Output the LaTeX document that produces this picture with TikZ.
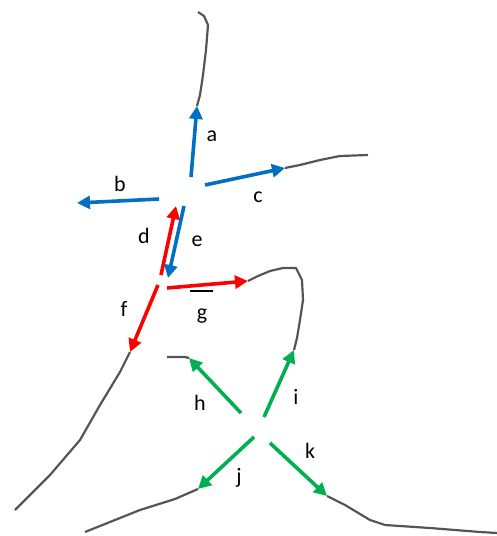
\documentclass[tikz,border=0pt]{standalone}
\usepackage{fontspec}
\setmainfont{Carlito}
\usetikzlibrary{arrows.meta}
\definecolor{vblue}{RGB}{0,112,192}
\definecolor{vred}{RGB}{255,0,0}
\definecolor{vgreen}{RGB}{0,176,80}
\definecolor{vline}{RGB}{85,85,85}
\tikzset{
  curve/.style={draw=vline,line width=2.2pt,line join=round},
  vec/.style={line width=3.6pt,-{Triangle[length=13pt,width=13pt]}},
  bluevec/.style={vec,draw=vblue,fill=vblue},
  redvec/.style={vec,draw=vred,fill=vred},
  greenvec/.style={vec,draw=vgreen,fill=vgreen},
  lab/.style={font=\fontsize{22}{22}\selectfont,inner sep=0pt}
}
\begin{document}
\begin{tikzpicture}[x=1pt,y=-1pt]
\useasboundingbox (0,0) rectangle (497,536);
% coordinates
\coordinate (a0) at (191,177); \coordinate (a1) at (197,106);
\coordinate (b0) at (159,199); \coordinate (b1) at (77,203);
\coordinate (c0) at (205,185); \coordinate (c1) at (285,168);
\coordinate (d0) at (161,275); \coordinate (d1) at (176,206);
\coordinate (e0) at (184,206); \coordinate (e1) at (168,278);
\coordinate (f0) at (158,285); \coordinate (f1) at (130,352);
\coordinate (g0) at (167,288); \coordinate (g1) at (248,281);
\coordinate (h0) at (241,413); \coordinate (h1) at (189,358);
\coordinate (i0) at (264,417); \coordinate (i1) at (294,350);
\coordinate (j0) at (254,437); \coordinate (j1) at (198,489);
\coordinate (k0) at (270,443); \coordinate (k1) at (327,496);
% gray curves
\draw[curve] (a1) -- (200,95) -- (203,75) -- (206,50) -- (208,25) -- (204,16) -- (198,12);
\draw[curve] (c1) -- (300,165) -- (320,160) -- (340,156) -- (368,155);
\draw[curve] (b0) -- (153,199);
\draw[curve] (g1) -- (258,276) -- (270,271) -- (283,268) -- (296,268) -- (302,280) -- (303,300) -- (300,320) -- (297,338) -- (i1);
\draw[curve,draw=black] (190,291) -- (213,291);
\draw[curve] (f1) -- (120,372) -- (100,405) -- (80,440) -- (50,475) -- (15,510);
\draw[curve] (h1) -- (185,357) -- (167,357);
\draw[curve] (j1) -- (175,499) -- (140,510) -- (115,520) -- (85,532);
\draw[curve] (k1) -- (345,505) -- (370,520) -- (385,525) -- (430,528) -- (480,532) -- (497,533);
% arrows
\draw[bluevec] (a0) -- (a1);
\draw[bluevec] (b0) -- (b1);
\draw[bluevec] (c0) -- (c1);
\draw[redvec] (d0) -- (d1);
\draw[bluevec] (e0) -- (e1);
\draw[redvec] (f0) -- (f1);
\draw[redvec] (g0) -- (g1);
\draw[greenvec] (h0) -- (h1);
\draw[greenvec] (i0) -- (i1);
\draw[greenvec] (j0) -- (j1);
\draw[greenvec] (k0) -- (k1);
% labels
\node[lab] (la) at (212,136) {a};
\node[lab] (lb) at (120,184) {b};
\node[lab] (lc) at (258,197) {c};
\node[lab] (ld) at (144,236) {d};
\node[lab] (le) at (197,241) {e};
\node[lab] (lf) at (124,309) {f};
\node[lab] (lg) at (202,316) {g};
\node[lab] (lh) at (200,403) {h};
\node[lab] (li) at (296,397) {i};
\node[lab] (lj) at (239,478) {j};
\node[lab] (lk) at (310,451) {k};
\end{tikzpicture}
\end{document}
